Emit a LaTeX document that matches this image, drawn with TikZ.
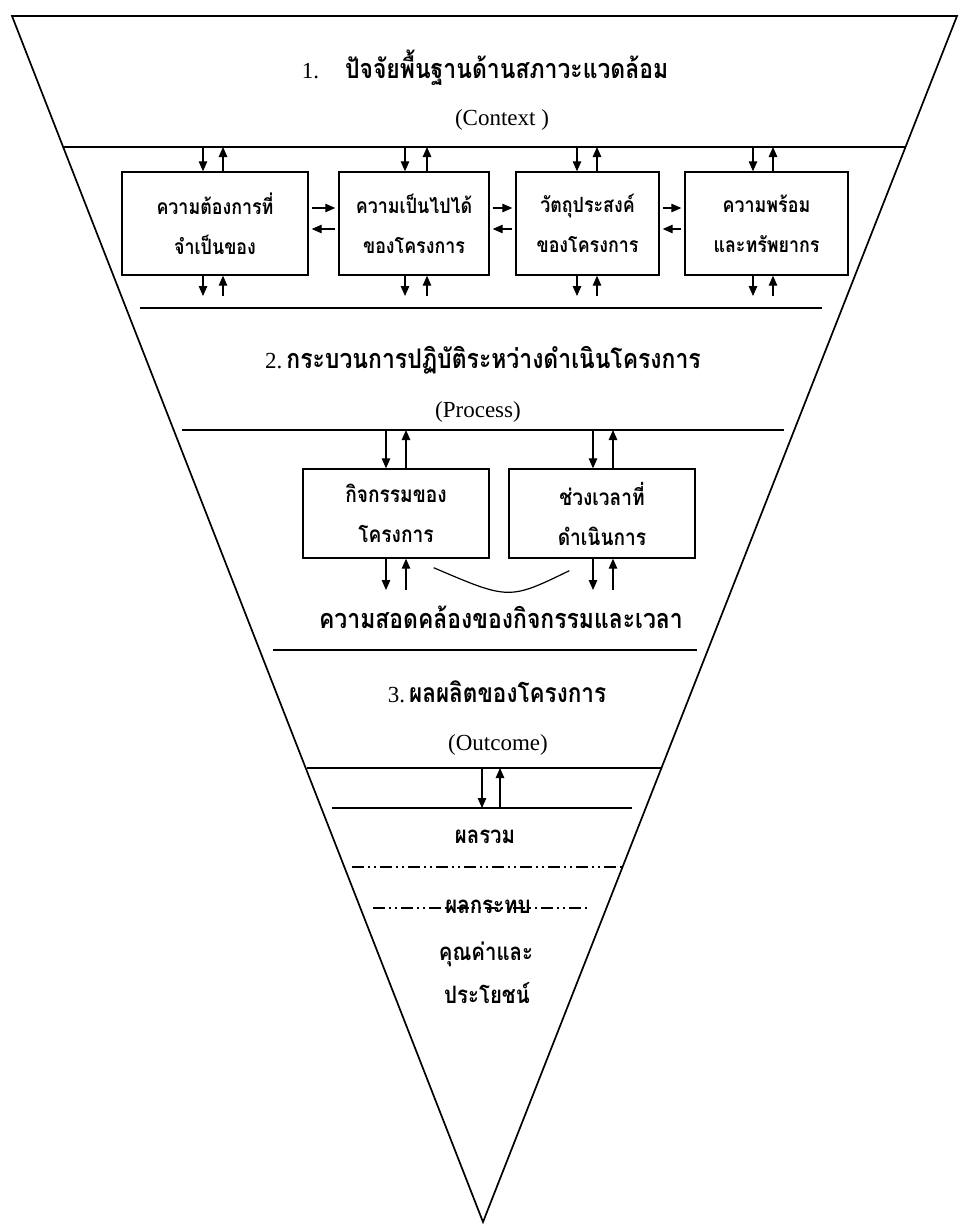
\documentclass[tikz,border=0pt]{standalone}
\usepackage{fontspec}
\setmainfont{Liberation Serif}
\newfontfamily\thai[Script=Thai, FakeStretch=0.85]{Loma}
\usetikzlibrary{arrows.meta,calc}
\begin{document}
\begin{tikzpicture}[x=1pt,y=-1pt,
  edge/.style={line width=1.7pt, line join=miter},
  hline/.style={line width=1.4pt},
  dline/.style={line width=1.3pt, dash pattern=on 12pt off 4pt on 2pt off 4pt on 2pt off 4pt},
  arr/.style={line width=1.2pt, -{Triangle[length=10pt,width=8.5pt]}},
  box/.style={draw, line width=1.4pt, align=center, inner sep=0pt, minimum height=103pt,
              font=\thai\bfseries\fontsize{21}{40}\selectfont},
  pbox/.style={box, minimum width=186pt, minimum height=89pt,
              font=\thai\bfseries\fontsize{22.5}{40}\selectfont},
  ttl/.style={anchor=base, font=\fontsize{23}{28}\selectfont},
  thlab/.style={anchor=base, font=\thai\bfseries\fontsize{24}{28}\selectfont},
]
\useasboundingbox (0,0) rectangle (961,1226);
% triangle
\coordinate (tl) at (12,16);
\coordinate (tr) at (957,16);
\coordinate (ap) at (483,1222);
\draw[edge] (tl) -- (tr) -- (ap) -- cycle;

% section 1
\node[ttl] (t1) at (485,78) {1.\hspace{26pt}{\thai\bfseries\fontsize{27}{28}\selectfont ปัจจัยพื้นฐานด้านสภาวะแวดล้อม}};
\node[ttl] (c1) at (502,125) {(Context )};
\coordinate (l1a) at (64,147); \coordinate (l1b) at (905,147);
\draw[edge] (l1a) -- (l1b);

\node[box, minimum width=186pt] (b1) at (215,223.5) {ความต้องการที่\\จำเป็นของ};
\node[box, minimum width=150pt] (b2) at (414,223.5) {ความเป็นไปได้\\ของโครงการ};
\node[box, minimum width=143pt] (b3) at (587.5,223.5) {วัตถุประสงค์\\ของโครงการ};
\node[box, minimum width=163pt] (b4) at (766.5,223.5) {ความพร้อม\\และทรัพยากร};

\coordinate (bl) at (0,296);
\foreach \b/\d/\u in {b1/-12/8, b2/-9/13, b3/-10.5/9.5, b4/-13.5/6.5}{
  \draw[arr] ([xshift=\d pt]\b.north |- l1a) -- ([xshift=\d pt]\b.north);
  \draw[arr] ([xshift=\u pt]\b.north) -- ([xshift=\u pt]\b.north |- l1a);
  \draw[arr] ([xshift=\d pt]\b.south) -- ([xshift=\d pt]\b.south |- bl);
  \draw[arr] ([xshift=\u pt]\b.south |- bl) -- ([xshift=\u pt]\b.south);
}
\foreach \a/\b in {b1/b2, b2/b3, b3/b4}{
  \draw[arr, shorten <=3pt, shorten >=3pt] ([yshift=15.5pt]\a.east) -- ([yshift=15.5pt]\a.east -| \b.west);
  \draw[arr, shorten <=3pt, shorten >=3pt] ([yshift=-5.5pt]\a.east -| \b.west) -- ([yshift=-5.5pt]\a.east);
}
\coordinate (l2a) at (140,308); \coordinate (l2b) at (822,308);
\draw[hline] (l2a) -- (l2b);

% section 2
\node[ttl] (t2) at (483,368) {2.\hspace{4pt}{\thai\bfseries\fontsize{27}{28}\selectfont กระบวนการปฏิบัติระหว่างดำเนินโครงการ}};
\node[ttl] (c2) at (478,417) {(Process)};
\coordinate (l3a) at (182,430); \coordinate (l3b) at (784,430);
\draw[hline] (l3a) -- (l3b);

\node[pbox] (pa) at (396,513.5) {กิจกรรมของ\\โครงการ};
\node[pbox] (pb) at (602,513.5) {ช่วงเวลาที่\\ดำเนินการ};
\coordinate (pl) at (0,590);
\foreach \b/\d/\u in {pa/-10/10, pb/-9/11}{
  \draw[arr] ([xshift=\d pt]\b.north |- l3a) -- ([xshift=\d pt]\b.north);
  \draw[arr] ([xshift=\u pt]\b.north) -- ([xshift=\u pt]\b.north |- l3a);
  \draw[arr] ([xshift=\d pt]\b.south) -- ([xshift=\d pt]\b.south |- pl);
  \draw[arr] ([xshift=\u pt]\b.south |- pl) -- ([xshift=\u pt]\b.south);
}
\coordinate (arcL) at ($(pa.south east)+(-56,9)$);
\coordinate (arcR) at ($(pb.south west)+(61,12)$);
\draw[line width=1.2pt] (arcL) .. controls (509,600) .. (arcR);
\node[thlab, font=\thai\bfseries\fontsize{27}{30}\selectfont] (sync) at (501,628) {ความสอดคล้องของกิจกรรมและเวลา};
\coordinate (l4a) at (273,650); \coordinate (l4b) at (697,650);
\draw[hline] (l4a) -- (l4b);

% section 3
\node[ttl] (t3) at (497,702) {3.\hspace{4pt}{\thai\bfseries\fontsize{26.5}{28}\selectfont ผลผลิตของโครงการ}};
\node[ttl] (c3) at (498,750) {(Outcome)};
\coordinate (l5a) at (307,768); \coordinate (l5b) at (661,768);
\draw[hline] (l5a) -- (l5b);
\coordinate (l6a) at (332,808); \coordinate (l6b) at (632,808);
\draw[hline] (l6a) -- (l6b);
\draw[arr] (482,0 |- l5a) -- (482,0 |- l6a);
\draw[arr] (500,0 |- l6a) -- (500,0 |- l5a);

\node[thlab] (r1) at (485,843) {ผลรวม};
\coordinate (d1a) at (352,867); \coordinate (d1b) at (623,867);
\draw[dline] (d1a) -- (d1b);
\coordinate (d2a) at (373,908); \coordinate (d2b) at (590,908);
\draw[dline] (d2a) -- (d2b);
\node[thlab] (r2) at (488,913) {ผลกระทบ};
\node[thlab] (r3) at (486,960) {คุณค่าและ};
\node[thlab] (r4) at (487,1003) {ประโยชน์};
\end{tikzpicture}
\end{document}
